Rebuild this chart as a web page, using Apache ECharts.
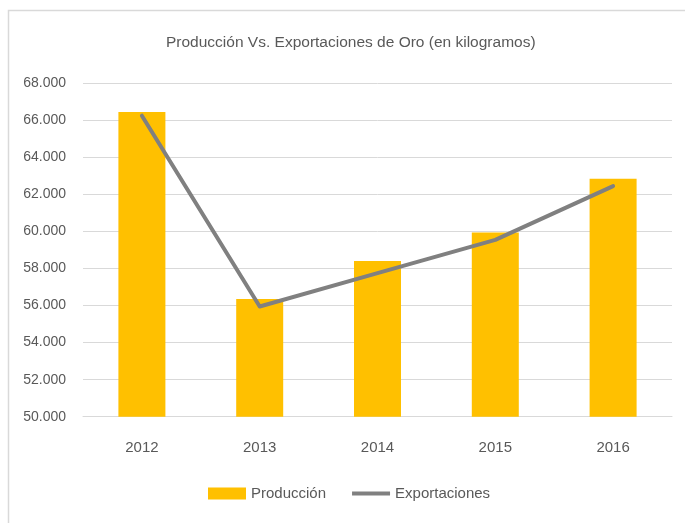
<!DOCTYPE html>
<html lang="es">
<head>
	<meta charset="UTF-8">
	<title>Oro</title>
	<script src="https://cdn.jsdelivr.net/npm/echarts@6/dist/echarts.min.js"></script>
	<style type="text/css">
		html,body{
			margin: 0;
			padding: 0;
			background-color: #FFFFFF;
		}
		#chart{
			width: 685px;
			height: 523px;
		}
	</style>
</head>
<body>
	<div id="chart"></div>
	<script>
		// datos
		var anios = ['2012', '2013', '2014', '2015', '2016'];
		var produccion = [66450, 56350, 58400, 59950, 62850];
		var exportaciones = [66250, 55950, 57750, 59550, 62450];

		var fuente = '"Liberation Sans", Arial, sans-serif';
		var gris = '#595959';

		var chart = echarts.init(document.getElementById('chart'));

		var option = {
			backgroundColor: '#FFFFFF',
			animation: false,
			title: {
				text: 'Producción Vs. Exportaciones de Oro (en kilogramos)',
				left: 161,
				top: 30,
				textStyle: {
					fontFamily: fuente,
					fontSize: 15.5,
					fontWeight: 'normal',
					color: gris
				}
			},
			legend: {
				left: 203,
				top: 481,
				itemWidth: 38,
				itemHeight: 12,
				itemGap: 26,
				textStyle: {
					fontFamily: fuente,
					fontSize: 15,
					color: gris
				},
				data: [
					{name: 'Producción', icon: 'rect'},
					{name: 'Exportaciones', icon: 'path://M0,0 L40,0 L40,4 L0,4 Z', itemStyle: {color: '#808080'}}
				]
			},
			grid: {
				left: 83,
				right: 13,
				top: 83.3,
				bottom: 106.3
			},
			xAxis: {
				type: 'category',
				data: anios,
				axisLine: {lineStyle: {color: '#D9D9D9', width: 1}},
				axisTick: {show: false},
				axisLabel: {
					margin: 24,
					fontFamily: fuente,
					fontSize: 15,
					color: gris
				}
			},
			yAxis: {
				type: 'value',
				min: 50000,
				max: 68000,
				interval: 2000,
				axisLine: {show: false},
				axisTick: {show: false},
				splitLine: {lineStyle: {color: '#D9D9D9', width: 1}},
				axisLabel: {
					margin: 17,
					fontFamily: fuente,
					fontSize: 14,
					color: gris,
					formatter: function (v) {
						return (v / 1000).toFixed(3);
					}
				}
			},
			graphic: [{
				type: 'rect',
				left: 6,
				top: 8,
				shape: {width: 720, height: 540},
				style: {fill: 'none', stroke: '#D9D9D9', lineWidth: 1.5},
				silent: true
			}],
			series: [
				{
					name: 'Producción',
					type: 'bar',
					barWidth: 47,
					itemStyle: {color: '#FFC000'},
					data: produccion
				},
				{
					name: 'Exportaciones',
					type: 'line',
					symbol: 'none',
					showSymbol: false,
					itemStyle: {color: '#808080'},
					lineStyle: {color: '#808080', width: 4, cap: 'round', join: 'round'},
					data: exportaciones
				}
			]
		};

		chart.setOption(option);
	</script>
</body>
</html>
